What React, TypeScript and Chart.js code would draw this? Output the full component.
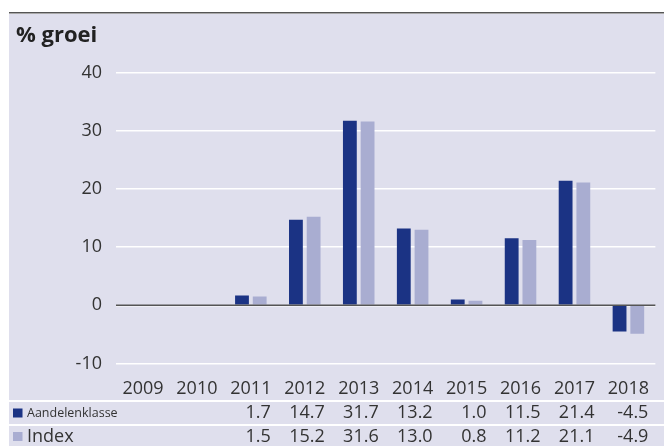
import React, { useEffect, useRef } from "react";
import { Chart, registerables } from "chart.js";

Chart.register(...registerables);

const title = "% groei";
const years = ["2009", "2010", "2011", "2012", "2013", "2014", "2015", "2016", "2017", "2018"];
const seriesNames = ["Aandelenklasse", "Index"];
const aandelenklasse: (number | null)[] = [null, null, 1.7, 14.7, 31.7, 13.2, 1.0, 11.5, 21.4, -4.5];
const indexValues: (number | null)[] = [null, null, 1.5, 15.2, 31.6, 13.0, 0.8, 11.2, 21.1, -4.9];
const yTicks = [-10, 0, 10, 20, 30, 40];

const DARK = "#1B3384";
const LIGHT = "#A9ADD1";
const BG = "#DFDFED";
const TEXT = "#333333";
const FONT = "'Open Sans', 'Liberation Sans', sans-serif";

const decor = {
  id: "decor",
  beforeDraw(chart: any) {
    const ctx = chart.ctx;
    const W = chart.width;
    const H = chart.height;
    ctx.save();
    ctx.fillStyle = BG;
    ctx.fillRect(9, 14, W - 9, H - 14);
    ctx.fillStyle = "#555555";
    ctx.fillRect(9, 12, W - 9, 1.5);
    ctx.fillStyle = "#222222";
    ctx.font = `bold 22px ${FONT}`;
    ctx.textAlign = "left";
    ctx.textBaseline = "alphabetic";
    ctx.fillText(title, 16, 42);
    ctx.restore();
  },
  afterDatasetsDraw(chart: any) {
    const ctx = chart.ctx;
    const y = chart.scales.y.getPixelForValue(0);
    const a = chart.chartArea;
    ctx.save();
    ctx.strokeStyle = "#555555";
    ctx.lineWidth = 1.5;
    ctx.beginPath();
    ctx.moveTo(a.left, y);
    ctx.lineTo(a.right, y);
    ctx.stroke();
    ctx.restore();
  },
  afterDraw(chart: any) {
    const ctx = chart.ctx;
    const W = chart.width;
    const xs = chart.scales.x;
    ctx.save();
    ctx.fillStyle = "#FFFFFF";
    ctx.fillRect(9, 400, W - 9, 2);
    ctx.fillRect(9, 424, W - 9, 2);
    const rows = [
      { name: seriesNames[0], data: aandelenklasse, color: DARK, y: 413, nameSize: 12.5 },
      { name: seriesNames[1], data: indexValues, color: LIGHT, y: 436.5, nameSize: 18 },
    ];
    rows.forEach((r) => {
      ctx.fillStyle = r.color;
      ctx.fillRect(13, r.y - 4.5, 9.5, 9);
      ctx.fillStyle = TEXT;
      ctx.textBaseline = "middle";
      ctx.textAlign = "left";
      ctx.font = `${r.nameSize}px ${FONT}`;
      ctx.fillText(r.name, 27, r.y);
      ctx.font = `18px ${FONT}`;
      ctx.textAlign = "right";
      r.data.forEach((v, i) => {
        if (v === null) return;
        const x = xs.getPixelForValue(i) + 20;
        ctx.fillText(v.toFixed(1), x, r.y);
      });
    });
    ctx.restore();
  },
};

export default function App() {
  const ref = useRef<HTMLCanvasElement | null>(null);
  useEffect(() => {
    if (!ref.current) return;
    const chart = new Chart(ref.current, {
      type: "bar",
      data: {
        labels: years,
        datasets: [
          { label: seriesNames[0], data: aandelenklasse, backgroundColor: DARK, borderWidth: 0, categoryPercentage: 0.657, barPercentage: 0.78 },
          { label: seriesNames[1], data: indexValues, backgroundColor: LIGHT, borderWidth: 0, categoryPercentage: 0.657, barPercentage: 0.78 },
        ],
      },
      options: {
        responsive: false,
        animation: false,
        layout: { padding: { top: 72.5, left: 0, right: 0, bottom: 0 } },
        plugins: { legend: { display: false }, tooltip: { enabled: false }, title: { display: false } },
        scales: {
          x: {
            grid: { display: false, drawTicks: false },
            border: { display: false },
            ticks: { color: TEXT, font: { family: FONT, size: 18 }, padding: 15, maxRotation: 0, autoSkip: false },
            afterFit: (s: any) => { s.height = 82.5; },
          },
          y: {
            min: -10,
            max: 40,
            grid: { color: "#FFFFFF", lineWidth: 1.5, drawTicks: false },
            border: { display: false },
            ticks: { color: TEXT, font: { family: FONT, size: 18 }, padding: 14 },
            afterBuildTicks: (s: any) => { s.ticks = yTicks.map((v) => ({ value: v })); },
            afterFit: (s: any) => { s.width = 116; },
          },
        },
      },
      plugins: [decor],
    } as any);
    return () => chart.destroy();
  }, []);
  return (
    <div style={{ position: "absolute", left: 0, top: 0, width: 664, height: 446 }}>
      <canvas ref={ref} width={664} height={446} style={{ display: "block" }} />
    </div>
  );
}
